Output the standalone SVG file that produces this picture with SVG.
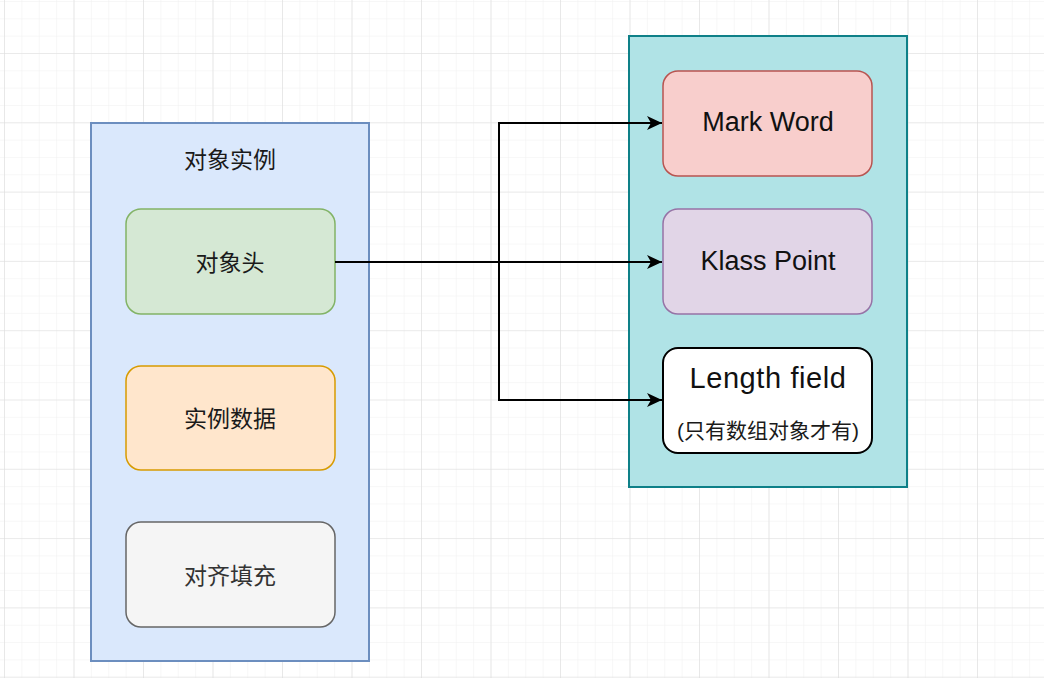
<svg xmlns="http://www.w3.org/2000/svg" width="1044" height="678" viewBox="0 0 1044 678">
<style>
.cn{font-family:"Liberation Sans","Noto Sans CJK SC",sans-serif;font-size:23px;fill:#1a1a1a;text-anchor:middle;dominant-baseline:central}
.en{font-family:"Liberation Sans",Arial,sans-serif;font-size:27px;fill:#111;text-anchor:middle;dominant-baseline:central}
.edge{fill:none;stroke:#000;stroke-width:2}
</style>
<defs>
<pattern id="minor" patternUnits="userSpaceOnUse" x="4" y="-16.3" width="17.375" height="17.325">
<path d="M0 0V17.325M0 0H17.375" fill="none" stroke="#f0f0f0" stroke-width="1"/>
</pattern>
<pattern id="major" patternUnits="userSpaceOnUse" x="4" y="-16.3" width="69.5" height="69.3">
<path d="M0 0V69.3M0 0H69.5" fill="none" stroke="#dedede" stroke-width="1.2"/>
</pattern>
<marker id="arr" markerWidth="16" markerHeight="14" refX="15" refY="7" orient="auto" markerUnits="userSpaceOnUse">
<path d="M0 0L15 7L0 14L4 7Z" fill="#000"/>
</marker>
</defs>
<rect width="1044" height="678" fill="#ffffff"/>
<rect width="1044" height="678" fill="url(#minor)"/>
<rect width="1044" height="678" fill="url(#major)"/>

<g id="instance">
<rect x="91" y="123" width="278" height="538" fill="#dae8fc" stroke="#6c8ebf" stroke-width="2"/>
<text class="cn" x="230" y="160">对象实例</text>
</g>
<g id="header">
<rect x="126" y="209" width="209" height="105" rx="15" fill="#d5e8d4" stroke="#82b366" stroke-width="1.5"/>
<text class="cn" x="230" y="263">对象头</text>
</g>
<g id="data">
<rect x="126" y="366" width="209" height="104" rx="15" fill="#ffe6cc" stroke="#d79b00" stroke-width="1.5"/>
<text class="cn" x="230" y="419">实例数据</text>
</g>
<g id="padding">
<rect x="126" y="522" width="209" height="105" rx="15" fill="#f5f5f5" stroke="#666666" stroke-width="1.5"/>
<text class="cn" x="230" y="576" style="fill:#333">对齐填充</text>
</g>

<g id="headerbox">
<rect x="629" y="36" width="278" height="451" fill="#b0e3e6" stroke="#0e8088" stroke-width="2"/>
</g>
<g id="markword">
<rect x="663" y="71" width="209" height="105" rx="15" fill="#f8cecc" stroke="#b85450" stroke-width="1.5"/>
<text class="en" x="768" y="122">Mark Word</text>
</g>
<g id="klass">
<rect x="663" y="209" width="209" height="105" rx="15" fill="#e1d5e7" stroke="#9673a6" stroke-width="1.5"/>
<text class="en" x="768" y="261">Klass Point</text>
</g>
<g id="length">
<rect x="663" y="348" width="209" height="105" rx="15" fill="#ffffff" stroke="#000000" stroke-width="2"/>
<text class="en" x="768" y="378" style="font-size:29px;letter-spacing:0.6px">Length field</text>
<text class="cn" x="768" y="430" style="font-size:21px">(只有数组对象才有)</text>
</g>

<g id="connectors">
<path class="edge" d="M335 262H662" marker-end="url(#arr)"/>
<path class="edge" d="M499 262V123H662" marker-end="url(#arr)"/>
<path class="edge" d="M499 262V400H662" marker-end="url(#arr)"/>
</g>
</svg>
